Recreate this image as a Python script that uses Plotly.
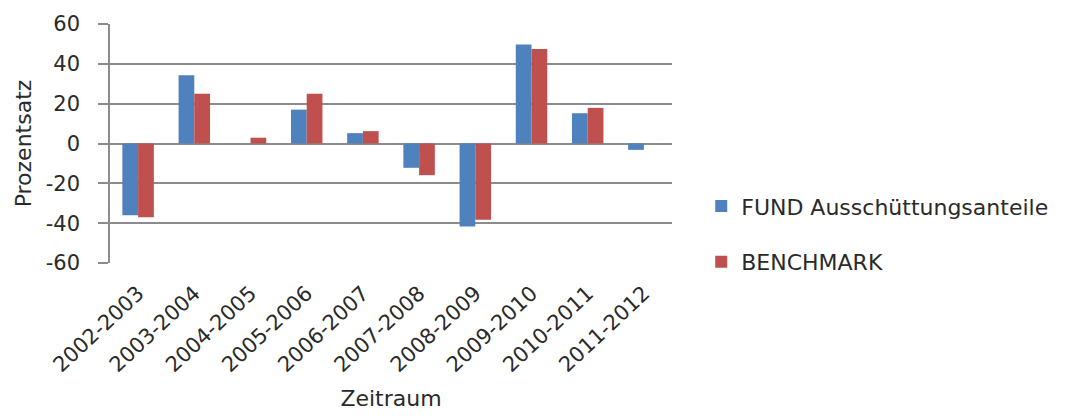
import plotly.graph_objects as go

categories = ["2002-2003", "2003-2004", "2004-2005", "2005-2006", "2006-2007",
              "2007-2008", "2008-2009", "2009-2010", "2010-2011", "2011-2012"]
fund = [-36, 34.3, 0, 17, 5.2, -12.2, -41.7, 49.7, 15.2, -3.2]
benchmark = [-37, 25, 2.9, 25, 6.2, -15.9, -38.3, 47.4, 17.9, 0]
y_ticks = [-60, -40, -20, 0, 20, 40, 60]

font_family = "DejaVu Sans, sans-serif"
grid = "#8c8c8c"
text_color = "#2a2a2a"

fig = go.Figure()
fig.add_trace(go.Bar(x=categories, y=fund, name="FUND Ausschüttungsanteile",
                     marker=dict(color="#4F81BD", line=dict(width=0)), legendgroup="a"))
fig.add_trace(go.Bar(x=categories, y=benchmark, name="BENCHMARK",
                     marker=dict(color="#C0504D", line=dict(width=0)), legendgroup="b"))

fig.update_layout(
    width=1060, height=403,
    margin=dict(l=102, r=396, t=16, b=148),
    paper_bgcolor="white", plot_bgcolor="white",
    barmode="group", bargap=0.44, bargroupgap=0,
    font=dict(family=font_family, size=21, color=text_color),
    showlegend=True,
    legend=dict(x=1.052, y=0.12, xanchor="left", yanchor="middle",
                font=dict(size=22, color=text_color), tracegroupgap=24,
                itemwidth=30, borderwidth=0, bgcolor="rgba(0,0,0,0)"),
    xaxis=dict(
        type="category", tickangle=-43, showgrid=False,
        showline=False, ticks="", tickfont=dict(size=21),
        ticklabelstandoff=13, automargin=False,
        title=dict(text="Zeitraum", font=dict(size=22), standoff=24),
    ),
    yaxis=dict(
        range=[-60, 60], tickvals=y_ticks, ticktext=[str(v) for v in y_ticks],
        showgrid=True, gridcolor=grid, gridwidth=1.5,
        zeroline=True, zerolinecolor=grid, zerolinewidth=1.5,
        showline=True, linecolor=grid, linewidth=1.5,
        ticks="outside", ticklen=10, tickcolor=grid, tickwidth=1.5,
        ticklabelstandoff=14, automargin=False,
        tickfont=dict(size=21),
        title=dict(text="Prozentsatz", font=dict(size=22), standoff=8),
    ),
)

fig.write_html("out.html")
